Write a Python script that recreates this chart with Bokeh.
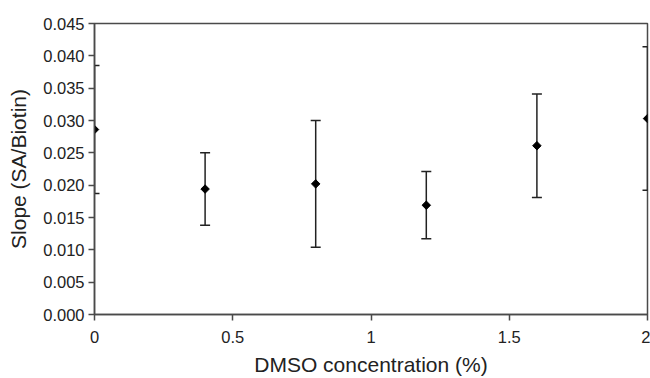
import math
from bokeh.plotting import figure
from bokeh.models import Range1d, FixedTicker, Whisker, ColumnDataSource, NumeralTickFormatter, TeeHead
from bokeh.embed import file_html
from bokeh.resources import INLINE

# data
dmso = [0.0, 0.4, 0.8, 1.2, 1.6, 2.0]
slope = [0.0286, 0.0194, 0.0202, 0.0169, 0.0261, 0.0303]
err = [0.0099, 0.0056, 0.0098, 0.0052, 0.0080, 0.0111]
x_ticks = [0, 0.5, 1, 1.5, 2]
x_tick_labels = ["0", "0.5", "1", "1.5", "2"]
y_ticks = [0.0, 0.005, 0.010, 0.015, 0.020, 0.025, 0.030, 0.035, 0.040, 0.045]

lower = [s - e for s, e in zip(slope, err)]
upper = [s + e for s, e in zip(slope, err)]
src = ColumnDataSource(dict(x=dmso, y=slope, lo=lower, hi=upper))

FONT = "Liberation Sans"
AX = "#4a4a4a"

p = figure(width=650, height=378, output_backend="svg", toolbar_location=None,
           x_range=Range1d(0, 2), y_range=Range1d(0, 0.045),
           min_border_left=94, min_border_right=3, min_border_top=23, min_border_bottom=63)
p.background_fill_color = "white"
p.border_fill_color = "white"
p.outline_line_color = AX
p.outline_line_width = 1.5
p.grid.visible = False

for ax in (p.xaxis[0], p.yaxis[0]):
    ax.axis_line_color = AX
    ax.axis_line_width = 1.5
    ax.major_tick_line_color = AX
    ax.major_tick_line_width = 1.5
    ax.major_tick_out = 6
    ax.major_tick_in = 0
    ax.minor_tick_line_color = None
    ax.major_label_text_font = FONT
    ax.major_label_text_font_size = "16.5px"
    ax.major_label_text_color = "#222222"
    ax.axis_label_text_font = FONT
    ax.axis_label_text_font_style = "normal"
    ax.axis_label_text_color = "#222222"

p.xaxis.ticker = FixedTicker(ticks=x_ticks)
p.xaxis.major_label_overrides = {t: l for t, l in zip(x_ticks, x_tick_labels)}
p.xaxis.major_label_standoff = 10
p.xaxis.axis_label = "DMSO concentration (%)"
p.xaxis.axis_label_text_font_size = "21px"
p.xaxis.axis_label_standoff = 7

p.yaxis.ticker = FixedTicker(ticks=y_ticks)
p.yaxis.formatter = NumeralTickFormatter(format="0.000")
p.yaxis.major_label_standoff = 4
p.yaxis.axis_label = "Slope (SA/Biotin)"
p.yaxis.axis_label_text_font_size = "21px"
p.yaxis.axis_label_standoff = 10

w = Whisker(source=src, base="x", lower="lo", upper="hi", line_color="#222222", line_width=1.5,
            upper_head=TeeHead(size=10, line_color="#222222", line_width=1.5),
            lower_head=TeeHead(size=10, line_color="#222222", line_width=1.5))
p.add_layout(w)
p.scatter("x", "y", source=src, marker="square", angle=math.pi / 4, size=6,
          fill_color="black", line_color="black")

open("out.html", "w").write(file_html(p, INLINE))
